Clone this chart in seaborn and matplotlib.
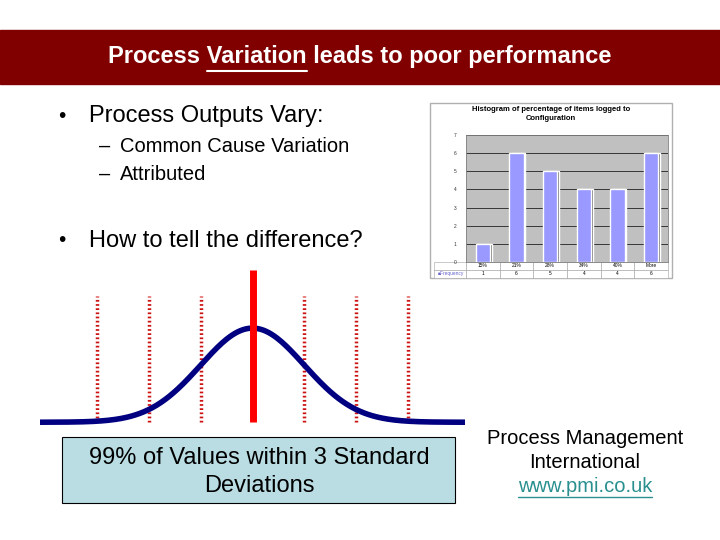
import numpy as np
import pandas as pd
import matplotlib
matplotlib.use("Agg")
import matplotlib.pyplot as plt
import seaborn as sns
from matplotlib.patches import Rectangle
from matplotlib.lines import Line2D

# slide text
title_pre, title_ul, title_post = "Process ", "Variation", " leads to poor performance"
bullets = ["Process Outputs Vary:", "How to tell the difference?"]
sub_bullets = ["Common Cause Variation", "Attributed"]
box_lines = ["99% of Values within 3 Standard", "Deviations"]
org_lines = ["Process Management", "International"]
org_url = "www.pmi.co.uk"

# inset histogram
hist_title = "Histogram of percentage of items logged to\nConfiguration"
hist_bins = ["15%", "21%", "28%", "34%", "40%", "More"]
hist_freq = [1, 6, 5, 4, 4, 6]

# bell curve
mean = 0.0
sd = 1.0
sigma_marks = [-3, -2, -1, 1, 2, 3]

sns.set_theme(style="white")
plt.rcParams["font.family"] = ["Liberation Sans", "DejaVu Sans"]
plt.rcParams["text.color"] = "black"

W, H = 720, 540
fig = plt.figure(figsize=(7.2, 5.4), dpi=100)


def box(x, y, w, h):
    # pixel box (top-left origin) -> figure fraction rect
    return [x / W, 1 - (y + h) / H, w / W, h / H]


def fx(x):
    return x / W


def fy(y):
    return 1 - y / H


def text_width(s, **kw):
    t = fig.text(0, 0, s, alpha=0, **kw)
    w = t.get_window_extent(fig.canvas.get_renderer()).width
    t.remove()
    return w


# header band
fig.patches.append(Rectangle((0, fy(84)), 1, (84 - 30) / H, transform=fig.transFigure,
                             color="#800000", zorder=0))
tkw = dict(fontsize=17, fontweight="bold", color="white", va="center")
t_full = fig.text(0.5, fy(57), title_pre + title_ul + title_post, ha="center", **tkw)
fig.canvas.draw()
ext = t_full.get_window_extent(fig.canvas.get_renderer())
w_pre = text_width(title_pre + "V", **tkw) - text_width("V", **tkw)
w_ul = text_width(title_ul, **tkw)
x0 = ext.x0 + w_pre
fig.lines.append(Line2D([x0 / W, (x0 + w_ul) / W], [fy(71), fy(71)],
                        transform=fig.transFigure, color="white", lw=1.5))

# bullets
fig.text(fx(58), fy(116), "\u2022", fontsize=15, va="center")
fig.text(fx(89), fy(116), bullets[0], fontsize=17, va="center")
for i, s in enumerate(sub_bullets):
    yy = fy(146 + 28 * i)
    fig.text(fx(99), yy, "\u2013", fontsize=14.5, va="center")
    fig.text(fx(120), yy, s, fontsize=14.5, va="center")
fig.text(fx(58), fy(241), "\u2022", fontsize=15, va="center")
fig.text(fx(89), fy(241), bullets[1], fontsize=17, va="center")

# inset histogram frame
fig.patches.append(Rectangle((fx(430), fy(278)), 242 / W, 175 / H, transform=fig.transFigure,
                             facecolor="white", edgecolor="#b0b0b0", lw=1, zorder=1))
fig.text(fx(551), fy(114), hist_title, fontsize=5.5, fontweight="bold", ha="center",
         va="center", linespacing=1.3, zorder=3)
ax_h = fig.add_axes(box(466, 135, 202, 127), zorder=2)
ax_h.set_facecolor("#c0c0c0")
df_h = pd.DataFrame({"bin": hist_bins, "freq": hist_freq})
# shadow bars then bars
ax_h.bar(np.arange(len(hist_bins)) + 0.05, hist_freq, width=0.42, color="#666666", zorder=2)
sns.barplot(data=df_h, x="bin", y="freq", color="#9999ff", width=0.42, saturation=1,
            ax=ax_h, zorder=3)
ax_h.set_ylim(0, 7)
ax_h.set_yticks(range(8))
ax_h.set_yticklabels([str(i) for i in range(8)], fontsize=3.5, color="#333333")
ax_h.tick_params(axis="y", length=0, pad=7)
ax_h.set_xticks([])
ax_h.set_xlabel("")
ax_h.set_ylabel("")
for v in range(1, 8):
    ax_h.axhline(v, color="black", lw=0.5, zorder=1)
for s in ax_h.spines.values():
    s.set_color("#808080")
    s.set_linewidth(0.6)
# data table below inset plot
tab = ax_h.table(cellText=[hist_bins, [str(v) for v in hist_freq]],
                 rowLabels=["", "\u25a0Frequency"], cellLoc="center",
                 bbox=[0, -0.125, 1, 0.125])
tab.auto_set_font_size(False)
tab.set_fontsize(3.5)
for (rr, cc), cell in tab.get_celld().items():
    cell.set_edgecolor("#a0a0a0")
    cell.set_linewidth(0.4)
    if cc == -1:
        cell.get_text().set_color("#6666cc")

# bell curve
ax_b = fig.add_axes(box(40, 266, 425, 160))
xs = np.linspace(-4.1, 4.1, 300)
ys = np.exp(-0.5 * ((xs - mean) / sd) ** 2)
df_b = pd.DataFrame({"x": xs, "y": ys})
for m in sigma_marks:
    ax_b.vlines(mean + m * sd, 0.0, 1.34, colors="#cc1111", lw=2.5,
                linestyles=(0, (0.5, 0.7)), zorder=1)
sns.lineplot(data=df_b, x="x", y="y", color="#000080", lw=4, ax=ax_b, zorder=2)
ax_b.vlines(mean, 0.0, 1.62, colors="#ff0000", lw=5, zorder=3)
ax_b.set_xlim(-4.1, 4.1)
ax_b.set_ylim(-0.04, 1.66)
ax_b.axis("off")

# caption box
fig.patches.append(Rectangle((fx(62), fy(503)), 393 / W, 66 / H, transform=fig.transFigure,
                             facecolor="#b9dde3", edgecolor="black", lw=0.8, zorder=1))
for i, s in enumerate(box_lines):
    fig.text(fx(259), fy(458 + 28 * i), s, fontsize=17, ha="center", va="center", zorder=2)

# organisation text
for i, s in enumerate(org_lines):
    fig.text(fx(585), fy(438 + 24.5 * i), s, fontsize=14.5, ha="center", va="center")
u = fig.text(fx(585), fy(487), org_url, fontsize=14.5, ha="center", va="center",
             color="#2a8f8f")
fig.canvas.draw()
ue = u.get_window_extent(fig.canvas.get_renderer())
fig.lines.append(Line2D([ue.x0 / W, ue.x1 / W], [fy(497), fy(497)],
                        transform=fig.transFigure, color="#2a8f8f", lw=1))

fig.savefig("out.png", dpi=100)
